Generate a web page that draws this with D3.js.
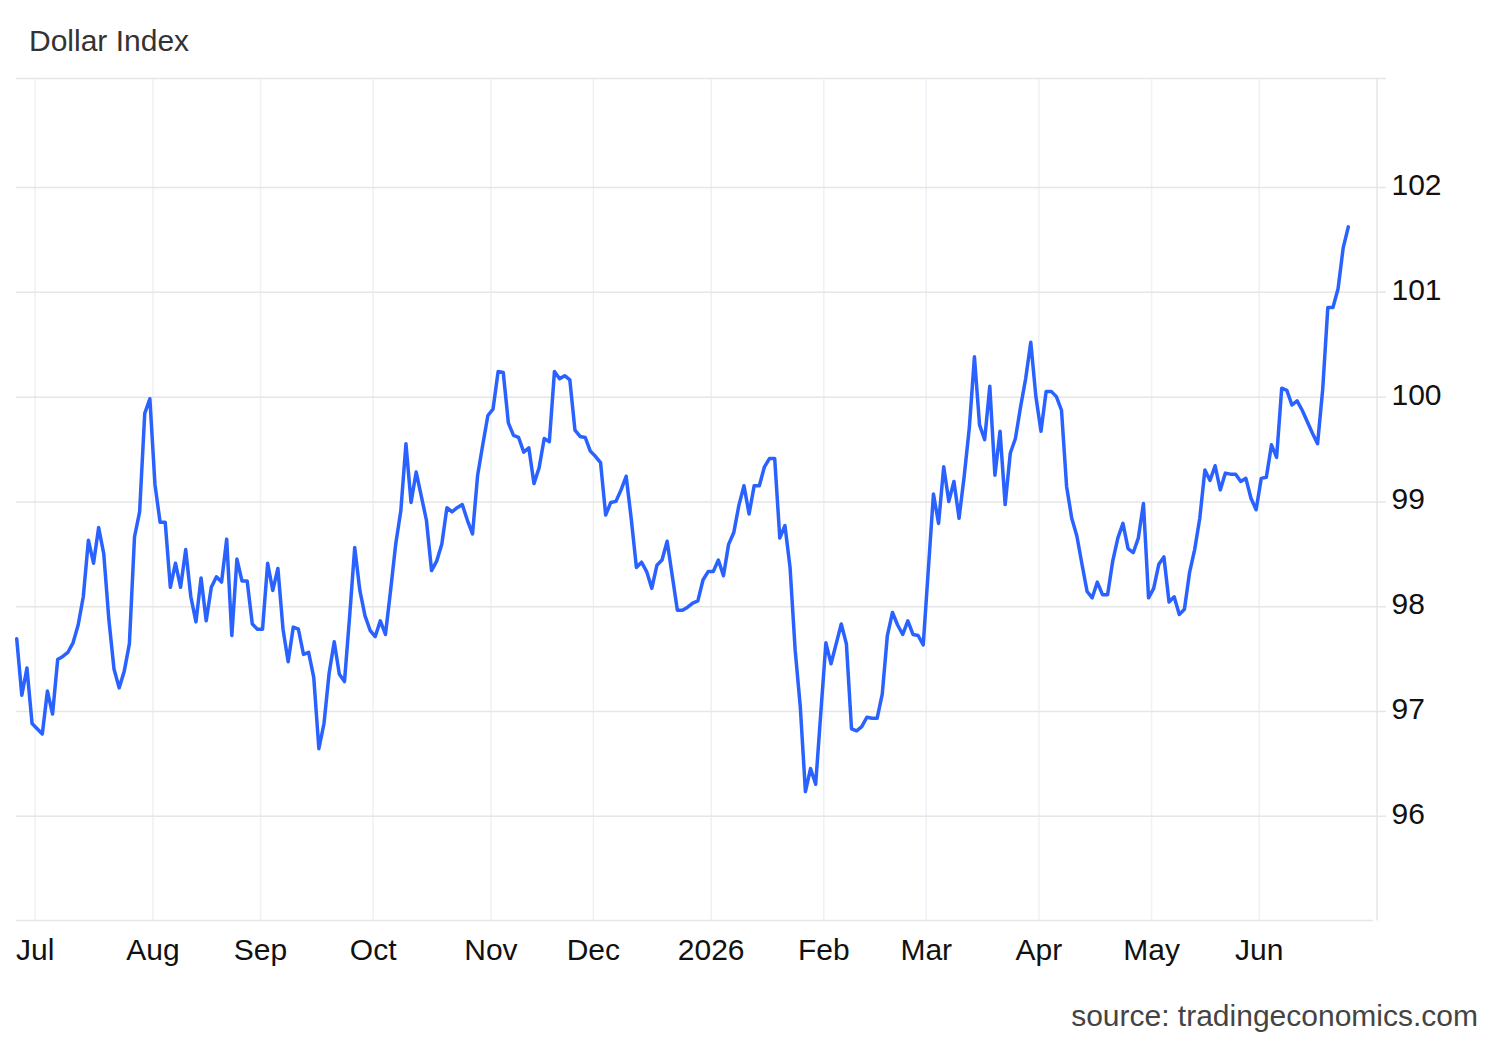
<!DOCTYPE html>
<html>
<head>
<meta charset="utf-8">
<script src="https://cdn.jsdelivr.net/npm/d3@7"></script>
<style>
    html, body { margin: 0; padding: 0; background: #fff; }
    svg { display: block; font-family: "Liberation Sans", Arial, sans-serif; }
</style>
</head>
<body>
<svg id="chart" width="1500" height="1040"></svg>
<script>
// First trading day of the series, one close per weekday after it
var startDate = "2025-06-26";

// Dollar Index daily closes
var closes = [
    97.69, 97.15, 97.41, 96.88, 96.83, 96.78, 97.19, 96.97, 97.49, 97.52, 97.56, 97.65, 97.82, 98.09, 98.63,
    98.41, 98.75, 98.50, 97.87, 97.40, 97.22, 97.38, 97.64, 98.66, 98.90, 99.84, 99.98, 99.16, 98.80, 98.80,
    98.18, 98.41, 98.18, 98.54, 98.09, 97.85, 98.27, 97.86, 98.18, 98.28, 98.23, 98.64, 97.72, 98.45,
    98.24, 98.24, 97.83, 97.78, 97.78, 98.41, 98.15, 98.36, 97.78, 97.47, 97.80, 97.78, 97.54, 97.56, 97.32,
    96.64, 96.88, 97.36, 97.66, 97.35, 97.28, 97.90, 98.56, 98.15, 97.91, 97.77, 97.71, 97.86, 97.73, 98.15,
    98.59, 98.91, 99.55, 98.99, 99.28, 99.05, 98.82, 98.34, 98.43, 98.59, 98.94, 98.90, 98.94,
    98.97, 98.82, 98.69, 99.25, 99.54, 99.82, 99.88, 100.24, 100.23, 99.75, 99.63, 99.61, 99.47, 99.51, 99.17,
    99.32, 99.60, 99.57, 100.24, 100.17, 100.20, 100.16, 99.68, 99.62, 99.61, 99.48, 99.43, 99.37, 98.87, 98.99,
    99.00, 99.11, 99.24, 98.83, 98.37, 98.42, 98.33, 98.17, 98.39, 98.44, 98.62, 98.29, 97.96,
    97.96, 97.99, 98.03, 98.05, 98.25, 98.33, 98.33, 98.44, 98.29, 98.59, 98.70, 98.96, 99.15, 98.88, 99.15,
    99.15, 99.33, 99.41, 99.41, 98.65, 98.77, 98.37, 97.58, 97.04, 96.23, 96.45, 96.30, 96.98, 97.65, 97.45,
    97.64, 97.83, 97.64, 96.83, 96.81, 96.85, 96.94, 96.93, 96.93, 97.16, 97.72, 97.94, 97.82,
    97.73, 97.86, 97.73, 97.72, 97.63, 98.35, 99.07, 98.79, 99.33, 99.00, 99.19, 98.84, 99.24, 99.70, 100.38,
    99.73, 99.59, 100.10, 99.25, 99.67, 98.97, 99.46, 99.60, 99.90, 100.17, 100.52, 100.00, 99.67, 100.05, 100.05,
    100.00, 99.87, 99.14, 98.84, 98.67, 98.40, 98.14, 98.08, 98.23, 98.11, 98.11, 98.43, 98.65,
    98.79, 98.55, 98.51, 98.65, 98.98, 98.08, 98.17, 98.40, 98.47, 98.04, 98.09, 97.92, 97.97, 98.32, 98.54,
    98.84, 99.30, 99.20, 99.34, 99.11, 99.27, 99.26, 99.26, 99.19, 99.22, 99.03, 98.92, 99.22, 99.23, 99.54,
    99.42, 100.08, 100.06, 99.92, 99.96, 99.87, 99.76, 99.65, 99.55, 100.07, 100.85, 100.85, 101.03, 101.42, 101.62
];

var monthStarts = ["2025-07-01", "2025-08-01", "2025-09-01", "2025-10-01", "2025-11-01", "2025-12-01",
                   "2026-01-01", "2026-02-01", "2026-03-01", "2026-04-01", "2026-05-01", "2026-06-01"];
var monthLabels = ["Jul", "Aug", "Sep", "Oct", "Nov", "Dec", "2026", "Feb", "Mar", "Apr", "May", "Jun"];

var yTicks = [96, 97, 98, 99, 100, 101, 102];

var parse = d3.utcParse("%Y-%m-%d");

// weekday calendar, one date per close
var dates = [];
var d = parse(startDate);
while (dates.length < closes.length) {
    if (d.getUTCDay() !== 0 && d.getUTCDay() !== 6) dates.push(d);
    d = d3.utcDay.offset(d, 1);
}

// month ticks sit on the first trading day of each month
var tickIdx = monthStarts.map(s => {
    var t = parse(s);
    return dates.findIndex(dt => dt >= t);
});

const plotLeft = 16, plotRight = 1377, plotTop = 78.5, plotBottom = 920.5;
const fontSize = "30px";

var svg = d3.select("#chart");

var x = d3.scaleLinear()
    .domain([0, closes.length - 1])
    .range([16.7, 1348.3]);

var y = d3.scaleLinear()
    .domain([95, 103])
    .range([plotBottom, 82.3]);

// vertical gridlines + month labels
var xAxis = svg.append("g")
    .attr("class", "xAxis")
    .attr("transform", "translate(0," + plotBottom + ")")
    .call(d3.axisBottom(x)
        .tickValues(tickIdx.map(i => i + 0.5))
        .tickFormat((v, i) => monthLabels[i])
        .tickSizeInner(-(plotBottom - plotTop))
        .tickSizeOuter(0));

xAxis.select(".domain").remove();
xAxis.selectAll(".tick line")
    .attr("stroke", "#eef1f5")
    .attr("stroke-width", 1.5);
xAxis.selectAll(".tick text")
    .attr("y", 39.5)
    .attr("dy", null)
    .attr("fill", "#111")
    .style("font-size", fontSize)
    .style("font-family", "'Liberation Sans', Arial, sans-serif");

// horizontal gridlines + right side labels
var yAxis = svg.append("g")
    .attr("class", "yAxis")
    .attr("transform", "translate(" + plotRight + ",0)")
    .call(d3.axisRight(y)
        .tickValues(yTicks)
        .tickFormat(d3.format("d"))
        .tickSizeOuter(0));

yAxis.select(".domain").remove();
yAxis.selectAll(".tick line")
    .attr("x1", plotLeft - plotRight)
    .attr("x2", 9)
    .attr("stroke", "#e6e6e6")
    .attr("stroke-width", 1.5);
yAxis.selectAll(".tick text")
    .attr("x", 14.5)
    .attr("dy", null)
    .attr("y", 7.5)
    .attr("text-anchor", "start")
    .attr("fill", "#111")
    .style("font-size", fontSize)
    .style("font-family", "'Liberation Sans', Arial, sans-serif");

// frame: top, bottom, right axis
svg.append("line")
    .attr("x1", plotLeft).attr("x2", 1386)
    .attr("y1", plotTop).attr("y2", plotTop)
    .attr("stroke", "#e6e6e6").attr("stroke-width", 1.5);
svg.append("line")
    .attr("x1", plotLeft).attr("x2", 1373)
    .attr("y1", plotBottom).attr("y2", plotBottom)
    .attr("stroke", "#e6e6e6").attr("stroke-width", 1.5);
svg.append("line")
    .attr("x1", plotRight).attr("x2", plotRight)
    .attr("y1", plotTop).attr("y2", plotBottom)
    .attr("stroke", "#e6e6e6").attr("stroke-width", 1.5);

// the series
var line = d3.line()
    .x((v, i) => x(i))
    .y(v => y(v));

svg.append("path")
    .datum(closes)
    .attr("fill", "none")
    .attr("stroke", "#2962ff")
    .attr("stroke-width", 3.5)
    .attr("stroke-linejoin", "round")
    .attr("stroke-linecap", "round")
    .attr("d", line);

// title and source
svg.append("text")
    .attr("x", 29)
    .attr("y", 50.5)
    .attr("fill", "#333")
    .style("font-size", fontSize)
    .text("Dollar Index");

svg.append("text")
    .attr("x", 1478)
    .attr("y", 1026)
    .attr("text-anchor", "end")
    .attr("fill", "#444")
    .style("font-size", fontSize)
    .text("source: tradingeconomics.com");
</script>
</body>
</html>
